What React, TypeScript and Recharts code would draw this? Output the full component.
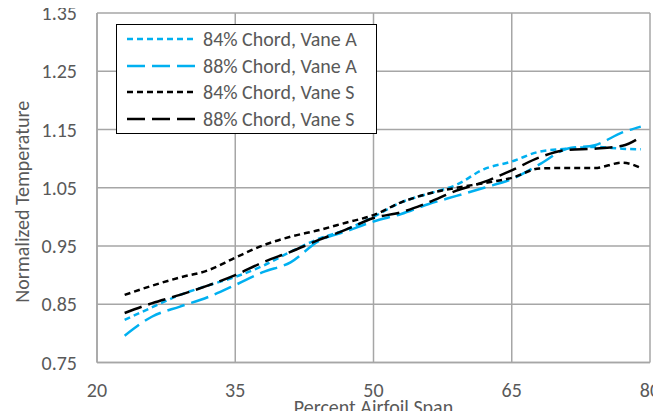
import React from "react";
import { LineChart, Line, XAxis, YAxis, CartesianGrid, Legend } from "recharts";

// percent airfoil span (x) where the traverse was sampled
const spanPct = [23, 26, 29, 32, 35, 38, 41, 44, 47, 50, 53, 56, 59, 62, 65, 68, 71, 74, 77, 79];

const chord84VaneA = [0.823, 0.845, 0.866, 0.882, 0.897, 0.916, 0.94, 0.962, 0.978, 1.0, 1.025, 1.04, 1.055, 1.082, 1.095, 1.112, 1.117, 1.12, 1.117, 1.116];
const chord88VaneA = [0.796, 0.829, 0.846, 0.862, 0.883, 0.905, 0.922, 0.958, 0.975, 0.992, 1.005, 1.022, 1.036, 1.05, 1.065, 1.09, 1.117, 1.123, 1.145, 1.155];
const chord84VaneS = [0.866, 0.882, 0.896, 0.908, 0.93, 0.951, 0.966, 0.977, 0.99, 1.003, 1.025, 1.04, 1.05, 1.058, 1.067, 1.083, 1.084, 1.084, 1.093, 1.084];
const chord88VaneS = [0.835, 0.852, 0.866, 0.882, 0.9, 0.922, 0.94, 0.96, 0.978, 0.998, 1.008, 1.025, 1.045, 1.06, 1.08, 1.102, 1.115, 1.117, 1.122, 1.137];

const xTicks = [20, 35, 50, 65, 80];
const yTicks = [0.75, 0.85, 0.95, 1.05, 1.15, 1.25, 1.35];

const series = [
  { key: "a84", name: "84% Chord, Vane A", color: "#00B0F0", dash: "6 4" },
  { key: "a88", name: "88% Chord, Vane A", color: "#00B0F0", dash: "18 7" },
  { key: "s84", name: "84% Chord, Vane S", color: "#000000", dash: "6 4" },
  { key: "s88", name: "88% Chord, Vane S", color: "#000000", dash: "18 7" },
];

const data = spanPct.map((span, i) => ({
  span,
  a84: chord84VaneA[i],
  a88: chord88VaneA[i],
  s84: chord84VaneS[i],
  s88: chord88VaneS[i],
}));

const FONT = "Carlito, Calibri, Lato, sans-serif";
const TEXT = "#595959";
const GRID = "#A6A6A6";
const FS = 20;

const BoxLegend = (props: any) => {
  const payload = [...(props.payload || [])];
  // keep the order the series were added in
  payload.sort(
    (a: any, b: any) =>
      series.findIndex((s) => s.key === a.dataKey) - series.findIndex((s) => s.key === b.dataKey)
  );
  return (
    <div
      style={{
        border: "1.5px solid #000",
        background: "#fff",
        padding: "1px 4px 1px 10px",
        width: 261,
        boxSizing: "border-box",
      }}
    >
      {payload.map((entry: any) => {
        const s = series.find((d) => d.key === entry.dataKey);
        return (
          <div key={entry.value} style={{ display: "flex", alignItems: "center", height: 26.5 }}>
            <svg width={70} height={10} style={{ flex: "none" }}>
              <line x1={0} y1={5} x2={68} y2={5} stroke={entry.color} strokeWidth={2.5} strokeDasharray={s ? s.dash : undefined} />
            </svg>
            <span style={{ marginLeft: 6, color: TEXT, fontSize: FS, fontFamily: FONT, whiteSpace: "nowrap" }}>
              {entry.value}
            </span>
          </div>
        );
      })}
    </div>
  );
};

// rotated y title, sitting a little below the plot's middle like the original
const YTitle = (props: any) => {
  const { viewBox } = props;
  const x = viewBox.x + 14;
  const y = viewBox.y + viewBox.height / 2 + 14;
  return (
    <text
      x={x}
      y={y}
      transform={`rotate(-90, ${x}, ${y})`}
      textAnchor="middle"
      dominantBaseline="central"
      fill={TEXT}
      fontSize={FS}
      fontFamily={FONT}
    >
      Normalized Temperature
    </text>
  );
};

export default function App() {
  return (
    <div style={{ fontFamily: FONT, margin: "-8px 0 -8px -8px" }}>
      <LineChart width={661} height={419} data={data} margin={{ top: 13, right: 11, left: 8, bottom: 0 }}>
        <CartesianGrid stroke={GRID} strokeWidth={1.5} />
        <XAxis
          dataKey="span"
          type="number"
          domain={[20, 80]}
          ticks={xTicks}
          interval={0}
          height={56.5}
          stroke={GRID}
          strokeWidth={1.5}
          tickLine={false}
          tickSize={0}
          tickMargin={20}
          tick={{ fill: TEXT, fontSize: FS, fontFamily: FONT }}
          label={{ value: "Percent Airfoil Span", position: "insideBottom", offset: 5, fill: TEXT, fontSize: FS, fontFamily: FONT }}
        />
        <YAxis
          type="number"
          domain={[0.75, 1.35]}
          ticks={yTicks}
          interval={0}
          width={89}
          stroke={GRID}
          strokeWidth={1.5}
          tickLine={false}
          tickSize={0}
          tickMargin={20}
          tickFormatter={(v: number) => v.toFixed(2)}
          tick={{ fill: TEXT, fontSize: FS, fontFamily: FONT }}
          label={<YTitle />}
        />
        <Legend
          layout="vertical"
          align="center"
          verticalAlign="middle"
          content={<BoxLegend />}
          wrapperStyle={{ position: "absolute", left: 116, top: 24, width: 261 }}
        />
        {series.map((s) => (
          <Line
            key={s.key}
            type="monotone"
            dataKey={s.key}
            name={s.name}
            stroke={s.color}
            strokeWidth={2.5}
            strokeDasharray={s.dash}
            dot={false}
            activeDot={false}
            isAnimationActive={false}
          />
        ))}
      </LineChart>
    </div>
  );
}
